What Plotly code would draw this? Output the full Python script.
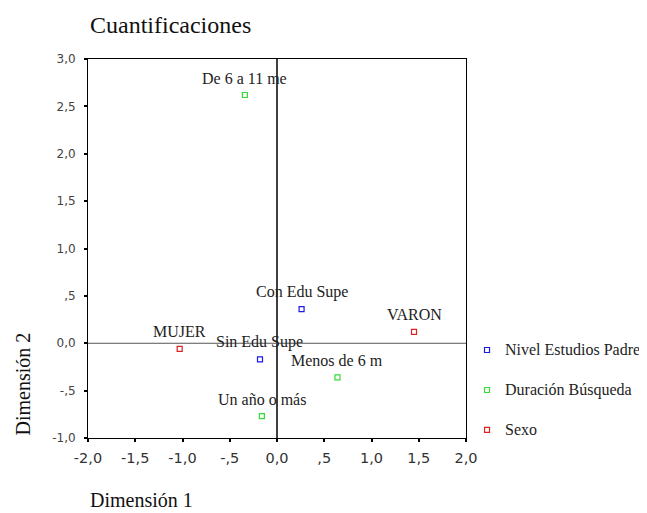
import plotly.graph_objects as go

# Data
series_names = ["Nivel Estudios Padre", "Duración Búsqueda", "Sexo"]
nivel_labels = ["Con Edu Supe", "Sin Edu Supe"]
nivel_x = [0.26, -0.18]
nivel_y = [0.36, -0.17]
duracion_labels = ["De 6 a 11 me", "Menos de 6 m", "Un año o más"]
duracion_x = [-0.34, 0.64, -0.16]
duracion_y = [2.62, -0.36, -0.77]
sexo_labels = ["VARON", "MUJER"]
sexo_x = [1.45, -1.03]
sexo_y = [0.12, -0.06]

x_tickvals = [-2.0, -1.5, -1.0, -0.5, 0.0, 0.5, 1.0, 1.5, 2.0]
x_ticktext = ["-2,0", "-1,5", "-1,0", "-,5", "0,0", ",5", "1,0", "1,5", "2,0"]
y_tickvals = [-1.0, -0.5, 0.0, 0.5, 1.0, 1.5, 2.0, 2.5, 3.0]
y_ticktext = ["-1,0", "-,5", "0,0", ",5", "1,0", "1,5", "2,0", "2,5", "3,0"]

colors = ["#1a1aee", "#33dd33", "#dd2222"]
serif = "Liberation Serif"
sans = "DejaVu Sans"

fig = go.Figure()
groups = [
    (series_names[0], nivel_x, nivel_y, nivel_labels, colors[0]),
    (series_names[1], duracion_x, duracion_y, duracion_labels, colors[1]),
    (series_names[2], sexo_x, sexo_y, sexo_labels, colors[2]),
]
for i, (name, xs, ys, labels, col) in enumerate(groups):
    fig.add_trace(go.Scatter(
        x=xs, y=ys, mode="markers", name=name, showlegend=False,
        marker=dict(symbol="square-open", size=5, color=col, line=dict(width=1.2, color=col)),
        hoverinfo="skip",
    ))
    for x, y, t in zip(xs, ys, labels):
        fig.add_annotation(x=x, y=y, text=t, showarrow=False, yshift=17,
                           font=dict(family=serif, size=16, color="#222"),
                           xanchor="center", yanchor="middle")
    # legend entry (drawn manually so it can reach the right edge without shrinking the plot)
    ly = 0.2322 - i * 0.1055
    fig.add_shape(type="rect", xref="paper", yref="paper",
                  xsizemode="pixel", ysizemode="pixel",
                  xanchor=1.0556, yanchor=ly, x0=-2.5, x1=2.5, y0=-2.5, y1=2.5,
                  line=dict(color=col, width=1.2), fillcolor="rgba(0,0,0,0)")
    fig.add_annotation(text=name, xref="paper", yref="paper", x=1.0979, y=ly,
                       xanchor="left", yanchor="middle", showarrow=False,
                       font=dict(family=serif, size=16, color="#222"))

# Zero lines
fig.add_shape(type="line", x0=0, x1=0, y0=-1, y1=3, xref="x", yref="y",
              line=dict(color="black", width=1.5), layer="below")
fig.add_shape(type="line", x0=-2, x1=2, y0=0, y1=0, xref="x", yref="y",
              line=dict(color="#555", width=1), layer="below")

fig.add_annotation(text="Cuantificaciones", xref="paper", yref="paper",
                   x=0, y=1, yshift=34, xanchor="left", yanchor="middle",
                   showarrow=False, font=dict(family=serif, size=24, color="#111"))
fig.add_annotation(text="Dimensión 1", xref="paper", yref="paper",
                   x=0, y=0, yshift=-62, xanchor="left", yanchor="middle",
                   showarrow=False, font=dict(family=serif, size=20, color="#111"))
fig.add_annotation(text="Dimensión 2", xref="paper", yref="paper",
                   x=0, y=0, xshift=-66, xanchor="center", yanchor="bottom",
                   textangle=-90, showarrow=False,
                   font=dict(family=serif, size=20, color="#111"))

axis_common = dict(showgrid=False, zeroline=False, showline=True, mirror=True,
                   linecolor="black", linewidth=1, ticks="outside", ticklen=3,
                   tickwidth=2, tickcolor="black")
fig.update_xaxes(range=[-2, 2], tickvals=x_tickvals, ticktext=x_ticktext,
                 ticklabelstandoff=4,
                 tickfont=dict(family=sans, size=14.5, color="#333"), **axis_common)
fig.update_yaxes(range=[-1, 3], tickvals=y_tickvals, ticktext=y_ticktext,
                 ticklabelstandoff=6,
                 tickfont=dict(family=sans, size=12, color="#444"), **axis_common)

# page body adds an 8px offset; the figure is sized to compensate
fig.update_layout(
    width=639, height=505,
    margin=dict(l=80, r=181, t=51, b=75),
    plot_bgcolor="white", paper_bgcolor="white",
    showlegend=False,
)

fig.write_html("out.html")
